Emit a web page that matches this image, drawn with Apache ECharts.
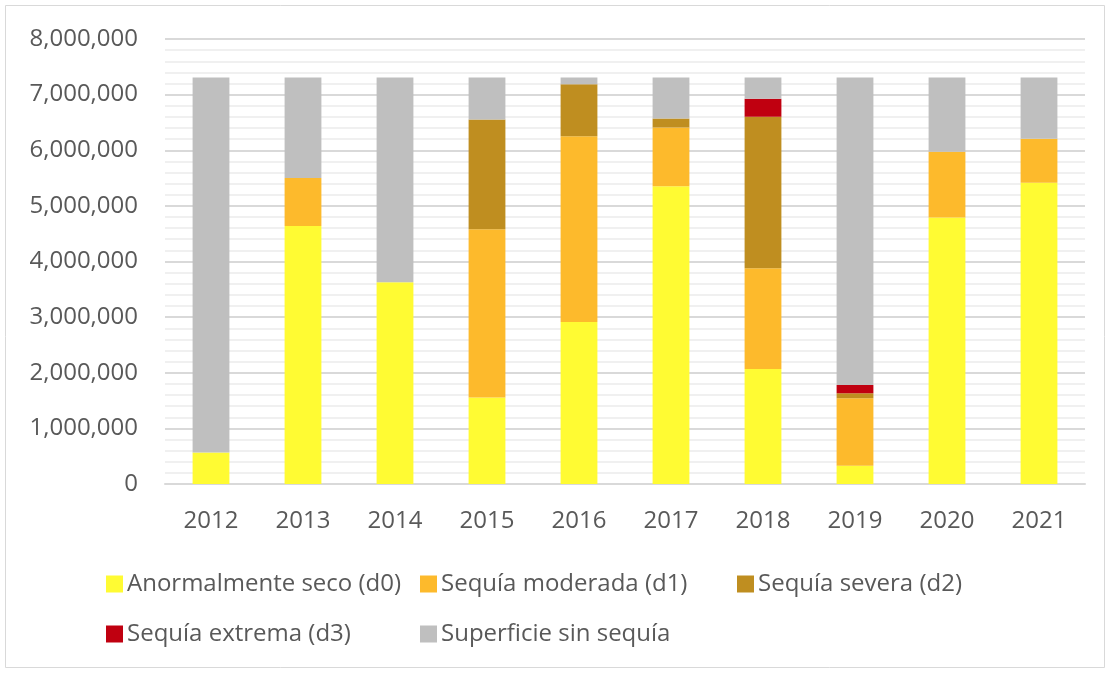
<!DOCTYPE html>
<html>
<head>
<meta charset="utf-8">
<script src="https://cdn.jsdelivr.net/npm/echarts@6/dist/echarts.min.js"></script>
<style>
html,body{margin:0;padding:0;background:#fff;}
#c{width:1111px;height:673px;}
</style>
</head>
<body>
<div id="c"></div>
<script>
const years = ['2012','2013','2014','2015','2016','2017','2018','2019','2020','2021'];
const d0 = [567000, 4639000, 3629000, 1553000, 2911000, 5351000, 2068000, 328000, 4789000, 5417000];
const d1 = [0, 861000, 0, 3026000, 3342000, 1058000, 1812000, 1215000, 1184000, 789000];
const d2 = [0, 0, 0, 1974000, 933000, 161000, 2721000, 89000, 0, 0];
const d3 = [0, 0, 0, 0, 0, 0, 323000, 149000, 0, 0];
const sinSequia = [6739000, 1806000, 3677000, 753000, 120000, 736000, 382000, 5525000, 1333000, 1100000];
const seriesNames = ['Anormalmente seco (d0)', 'Sequía moderada (d1)', 'Sequía severa (d2)', 'Sequía extrema (d3)', 'Superficie sin sequía'];
const colors = ['#FFFB33', '#FDBA2C', '#BF8E20', '#C00010', '#BFBFBF'];

const font = "'Open Sans', 'Noto Sans', sans-serif";
const chart = echarts.init(document.getElementById('c'), null, {renderer: 'canvas'});
const dataSets = [d0, d1, d2, d3, sinSequia];
const legendPos = [[106, 572], [420, 572], [737, 572], [106, 622], [420, 622]];
chart.setOption({
  animation: false,
  backgroundColor: '#fff',
  color: colors,
  graphic: [{type: 'rect', shape: {x: 5.5, y: 5.5, width: 1099, height: 662}, style: {fill: 'none', stroke: '#d9d9d9', lineWidth: 1}, silent: true}],
  legend: seriesNames.map((n, i) => ({
    data: [n], left: legendPos[i][0], top: legendPos[i][1], padding: 0,
    icon: 'rect', itemWidth: 17, itemHeight: 17, itemGap: 6,
    textStyle: {fontFamily: font, fontSize: 24, color: '#595959', padding: [0, 0, 0, -1]}
  })),
  grid: {left: 165, right: 26, top: 39, bottom: 189},
  xAxis: {
    type: 'category', data: years,
    axisLine: {lineStyle: {color: '#d9d9d9', width: 2}},
    axisTick: {show: false},
    axisLabel: {fontFamily: font, fontSize: 24, color: '#595959', margin: 25}
  },
  yAxis: {
    type: 'value', min: 0, max: 8000000, interval: 1000000,
    axisLine: {show: false}, axisTick: {show: false},
    axisLabel: {fontFamily: font, fontSize: 24, color: '#595959', margin: 27,
      formatter: v => v.toString().replace(/\B(?=(\d{3})+(?!\d))/g, ',')},
    splitLine: {lineStyle: {color: '#d9d9d9', width: 2}},
    minorTick: {show: false, splitNumber: 5},
    minorSplitLine: {show: true, lineStyle: {color: '#ececec', width: 1.5}}
  },
  series: seriesNames.map((n, i) => ({
    name: n, type: 'bar', stack: 'total', barWidth: '40%',
    data: dataSets[i]
  }))
});
</script>
</body>
</html>
